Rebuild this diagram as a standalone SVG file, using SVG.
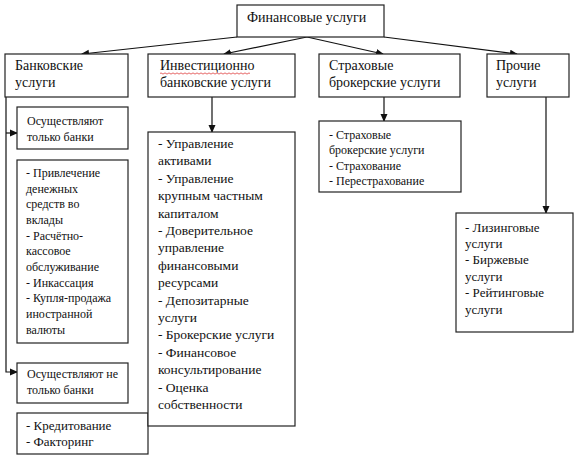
<svg xmlns="http://www.w3.org/2000/svg" width="580" height="458" viewBox="0 0 580 458">
<defs>
<marker id="ah" markerWidth="8" markerHeight="8" refX="7" refY="4" orient="auto" markerUnits="userSpaceOnUse">
<path d="M0,0.5 L8,4 L0,7.5 Z" fill="#111"/>
</marker>
<style>
.box{fill:#fff;stroke:#222;stroke-width:1.2}
.t{font-family:"Liberation Serif","Times New Roman",serif;fill:#111}
.h{font-size:14px}
.m{font-size:13.5px}
.s{font-size:12px}
.c{stroke:#111;stroke-width:1.2;fill:none}
</style>
</defs>
<rect width="580" height="458" fill="#fff"/>

<g id="connectors">
<line class="c" x1="237" y1="37" x2="82" y2="54" marker-end="url(#ah)"/>
<line class="c" x1="307" y1="37" x2="224" y2="54" marker-end="url(#ah)"/>
<line class="c" x1="307" y1="37" x2="383" y2="54" marker-end="url(#ah)"/>
<line class="c" x1="384" y1="37" x2="517" y2="54" marker-end="url(#ah)"/>
<polyline class="c" points="6,97 6,372 17,372" marker-end="url(#ah)"/>
<line class="c" x1="6" y1="133" x2="17" y2="133" marker-end="url(#ah)"/>
<line class="c" x1="212" y1="97" x2="212" y2="132" marker-end="url(#ah)"/>
<line class="c" x1="384" y1="97" x2="384" y2="121" marker-end="url(#ah)"/>
<line class="c" x1="546" y1="97" x2="546" y2="213" marker-end="url(#ah)"/>
</g>

<g id="fin">
<rect class="box" x="237" y="5" width="147" height="32"/>
<text class="t h" x="247" y="22">Финансовые услуги</text>
</g>

<g id="bank">
<rect class="box" x="5" y="54" width="123" height="43"/>
<text class="t h" x="15" y="70">Банковские</text>
<text class="t h" x="15" y="87">услуги</text>
</g>

<g id="invest">
<rect class="box" x="148" y="54" width="147" height="43"/>
<text class="t h" x="160" y="70">Инвестиционно</text>
<path d="M160,73.5 q1,-1.2 2,0 t2,0 t2,0 t2,0 t2,0 t2,0 t2,0 t2,0 t2,0 t2,0 t2,0 t2,0 t2,0 t2,0 t2,0 t2,0 t2,0 t2,0 t2,0 t2,0 t2,0 t2,0 t2,0 t2,0 t2,0 t2,0 t2,0 t2,0 t2,0 t2,0 t2,0 t2,0 t2,0 t2,0 t2,0 t2,0 t2,0 t2,0 t2,0 t2,0 t2,0 t2,0 t2,0 t2,0 t2,0" fill="none" stroke="#e04040" stroke-width="0.8"/>
<text class="t h" x="160" y="87">банковские услуги</text>
</g>

<g id="insur">
<rect class="box" x="319" y="54" width="141" height="43"/>
<text class="t h" x="329" y="70">Страховые</text>
<text class="t h" x="329" y="87">брокерские услуги</text>
</g>

<g id="other">
<rect class="box" x="487" y="54" width="82" height="43"/>
<text class="t h" x="496" y="70">Прочие</text>
<text class="t h" x="496" y="87">услуги</text>
</g>

<g id="only-banks">
<rect class="box" x="17" y="107" width="111" height="42"/>
<text class="t s" x="27" y="125">Осуществляют</text>
<text class="t s" x="27" y="141">только банки</text>
</g>

<g id="bank-list">
<rect class="box" x="17" y="160" width="111" height="183"/>
<text class="t s" x="26" y="177">- Привлечение</text>
<text class="t s" x="26" y="193">денежных</text>
<text class="t s" x="26" y="208">средств во</text>
<text class="t s" x="26" y="224">вклады</text>
<text class="t s" x="26" y="240">- Расчётно-</text>
<text class="t s" x="26" y="255">кассовое</text>
<text class="t s" x="26" y="271">обслуживание</text>
<text class="t s" x="26" y="287">- Инкассация</text>
<text class="t s" x="26" y="302">- Купля-продажа</text>
<text class="t s" x="26" y="318">иностранной</text>
<text class="t s" x="26" y="334">валюты</text>
</g>

<g id="not-only-banks">
<rect class="box" x="17" y="363" width="111" height="40"/>
<text class="t s" x="27" y="378">Осуществляют не</text>
<text class="t s" x="27" y="394">только банки</text>
</g>

<g id="credit">
<rect class="box" x="17" y="413" width="131" height="41"/>
<text class="t" style="font-size:13px" x="26" y="430">- Кредитование</text>
<text class="t" style="font-size:13px" x="26" y="446">- Факторинг</text>
</g>

<g id="invest-list">
<rect class="box" x="148" y="132" width="147" height="294"/>
<text class="t m" x="158" y="148">- Управление</text>
<text class="t m" x="158" y="165.4">активами</text>
<text class="t m" x="158" y="182.8">- Управление</text>
<text class="t m" x="158" y="200.2">крупным частным</text>
<text class="t m" x="158" y="217.6">капиталом</text>
<text class="t m" x="158" y="235">- Доверительное</text>
<text class="t m" x="158" y="252.4">управление</text>
<text class="t m" x="158" y="269.8">финансовыми</text>
<text class="t m" x="158" y="287.2">ресурсами</text>
<text class="t m" x="158" y="304.6">- Депозитарные</text>
<text class="t m" x="158" y="322">услуги</text>
<text class="t m" x="158" y="339.4">- Брокерские услуги</text>
<text class="t m" x="158" y="356.8">- Финансовое</text>
<text class="t m" x="158" y="374.2">консультирование</text>
<text class="t m" x="158" y="391.6">- Оценка</text>
<text class="t m" x="158" y="409">собственности</text>
</g>

<g id="insur-list">
<rect class="box" x="319" y="121" width="142" height="71"/>
<text class="t s" x="329" y="139">- Страховые</text>
<text class="t s" x="329" y="154">брокерские услуги</text>
<text class="t s" x="329" y="170">- Страхование</text>
<text class="t s" x="329" y="185">- Перестрахование</text>
</g>

<g id="other-list">
<rect class="box" x="456" y="213" width="117" height="119"/>
<text class="t" style="font-size:13px" x="465" y="232">- Лизинговые</text>
<text class="t" style="font-size:13px" x="465" y="248">услуги</text>
<text class="t" style="font-size:13px" x="465" y="264">- Биржевые</text>
<text class="t" style="font-size:13px" x="465" y="281">услуги</text>
<text class="t" style="font-size:13px" x="465" y="297">- Рейтинговые</text>
<text class="t" style="font-size:13px" x="465" y="314">услуги</text>
</g>
</svg>
